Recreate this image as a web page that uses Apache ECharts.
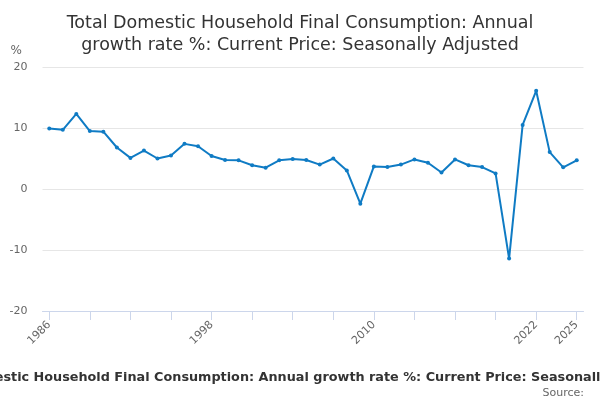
<!DOCTYPE html>
<html>
<head>
<meta charset="utf-8">
<script src="https://cdn.jsdelivr.net/npm/echarts@6/dist/echarts.min.js"></script>
<style>
    html, body { margin: 0; padding: 0; background: #fff; }
    #chart { width: 600px; height: 400px; }
</style>
</head>
<body>
<div id="chart"></div>
<script>
var years = [];
for (var y = 1986; y <= 2025; y++) { years.push(String(y)); }

var growth = [
    9.9, 9.7, 12.3, 9.5, 9.4, 6.8, 5.1, 6.3, 5.0, 5.5,
    7.4, 7.0, 5.4, 4.75, 4.7, 3.9, 3.5, 4.7, 4.9, 4.75,
    4.0, 5.0, 3.05, -2.4, 3.7, 3.6, 4.0, 4.85, 4.3, 2.7,
    4.85, 3.9, 3.6, 2.55, -11.4, 10.5, 16.1, 6.05, 3.55, 4.7
];

var shownLabels = ['1986', '1998', '2010', '2022', '2025'];
var yTicks = { min: -20, max: 20, step: 10 };

var seriesName = 'Total Domestic Household Final Consumption: Annual growth rate %: Current Price: Seasonally Adjusted';
var font = '"DejaVu Sans", sans-serif';

var myChart = echarts.init(document.getElementById('chart'));

var option = {
    backgroundColor: '#fff',
    animation: false,
    textStyle: { fontFamily: font },
    title: [
        {
            text: 'Total Domestic Household Final Consumption: Annual\ngrowth rate %: Current Price: Seasonally Adjusted',
            left: 'center',
            top: 7,
            textStyle: {
                fontSize: 17.5,
                fontWeight: 'normal',
                color: '#333',
                lineHeight: 22,
                fontFamily: font
            }
        },
        {
            text: seriesName,
            left: 'center',
            top: 366,
            padding: [5, 5, 5, 15],
            textStyle: {
                fontSize: 12.8,
                fontWeight: 'bold',
                color: '#333',
                fontFamily: font
            }
        },
        {
            text: 'Source:',
            right: 11,
            top: 383,
            textStyle: {
                fontSize: 11,
                fontWeight: 'normal',
                color: '#666',
                fontFamily: font
            }
        }
    ],
    grid: {
        left: 42.5,
        right: 16.5,
        top: 67,
        bottom: 89
    },
    xAxis: {
        type: 'category',
        data: years,
        boundaryGap: true,
        axisLine: { show: true, onZero: false, lineStyle: { color: '#ccd6eb', width: 1 } },
        axisTick: {
            show: true,
            alignWithLabel: true,
            length: 9,
            interval: function (index) { return index % 3 === 0; },
            lineStyle: { color: '#ccd6eb' }
        },
        axisLabel: {
            rotate: 45,
            color: '#666',
            fontSize: 11,
            fontFamily: font,
            margin: 12,
            interval: function (index, value) { return shownLabels.indexOf(value) >= 0; }
        },
        splitLine: { show: false }
    },
    yAxis: {
        type: 'value',
        min: yTicks.min,
        max: yTicks.max,
        interval: yTicks.step,
        name: '%',
        nameLocation: 'end',
        nameGap: 10,
        nameTextStyle: { color: '#666', fontSize: 12, fontFamily: font, align: 'left', padding: [0, 0, 0, -32] },
        axisLine: { show: false },
        axisTick: { show: false },
        axisLabel: { color: '#666', fontSize: 11, fontFamily: font, margin: 15 },
        splitLine: { lineStyle: { color: '#e6e6e6', width: 1 } }
    },
    series: [
        {
            name: seriesName,
            type: 'line',
            data: growth,
            symbol: 'circle',
            symbolSize: 4,
            lineStyle: { color: '#0f7bc4', width: 2 },
            itemStyle: { color: '#0f7bc4' }
        }
    ]
};

myChart.setOption(option);
</script>
</body>
</html>
